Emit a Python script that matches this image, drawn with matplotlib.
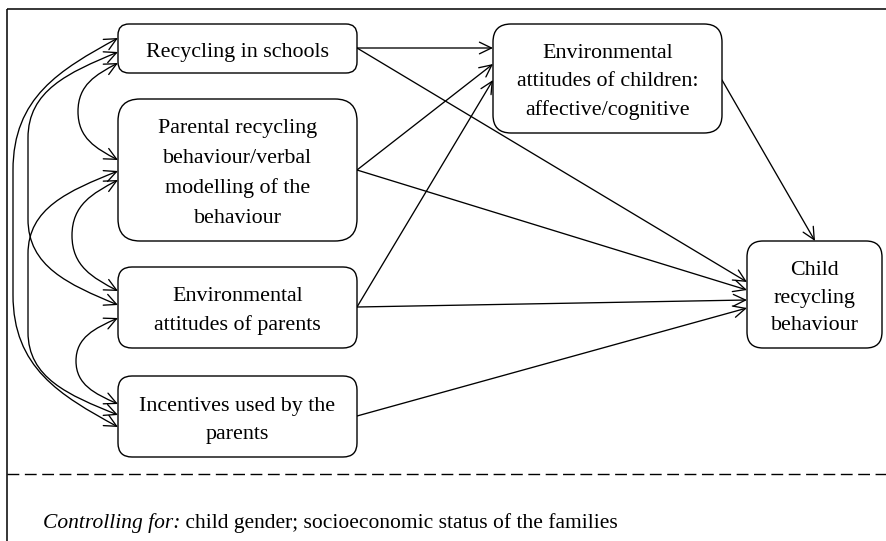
import matplotlib
matplotlib.use("Agg")
import matplotlib.pyplot as plt
from matplotlib.patches import FancyBboxPatch, FancyArrowPatch, ArrowStyle
from matplotlib.path import Path

# ---- data: node labels and paths ----
box_names = ["schools", "parental", "env_parents", "incentives", "env_children", "child"]
box_labels = [
    ["Recycling in schools"],
    ["Parental recycling", "behaviour/verbal", "modelling of the", "behaviour"],
    ["Environmental", "attitudes of parents"],
    ["Incentives used by the", "parents"],
    ["Environmental", "attitudes of children:", "affective/cognitive"],
    ["Child", "recycling", "behaviour"],
]
# directed paths (from, to)
direct_paths = [
    ("schools", "env_children"),
    ("schools", "child"),
    ("parental", "env_children"),
    ("parental", "child"),
    ("env_parents", "env_children"),
    ("env_parents", "child"),
    ("incentives", "child"),
    ("env_children", "child"),
]
# covariances among exogenous variables
covariances = [
    ("schools", "parental"),
    ("parental", "env_parents"),
    ("env_parents", "incentives"),
    ("schools", "env_parents"),
    ("parental", "incentives"),
    ("schools", "incentives"),
]
footnote_italic = "Controlling for:"
footnote_rest = " child gender; socioeconomic status of the families"

# ---- layout (pixel space) ----
W, H = 887, 541
boxes = {  # x0, y0, x1, y1, corner radius, line spacing
    "schools": (118, 24, 357, 73, 11, 30),
    "parental": (118, 99, 357, 241, 22, 30),
    "env_parents": (118, 267, 357, 348, 14, 29),
    "incentives": (118, 376, 357, 457, 14, 28),
    "env_children": (493, 24, 722, 133, 18, 28),
    "child": (747, 241, 882, 348, 16, 27.5),
}
# arrow start / end points
arrow_pts = {
    ("schools", "env_children"): ((357, 48), (493, 48)),
    ("schools", "child"): ((357, 48), (747, 282)),
    ("parental", "env_children"): ((357, 170), (493, 64)),
    ("parental", "child"): ((357, 170), (747, 290)),
    ("env_parents", "env_children"): ((357, 307), (493, 80)),
    ("env_parents", "child"): ((357, 307), (747, 300)),
    ("incentives", "child"): ((357, 416), (747, 308)),
    ("env_children", "child"): ((722, 80), (815, 241)),
}
# covariance arcs: y at first box, y at second box, leftmost x
cov_geom = {
    ("schools", "parental"): (63, 160, 78),
    ("parental", "env_parents"): (180, 291, 72),
    ("env_parents", "incentives"): (318, 404, 76),
    ("schools", "env_parents"): (52, 305, 28),
    ("parental", "incentives"): (171, 415, 28),
    ("schools", "incentives"): (38, 427, 13),
}

FONT = "Liberation Serif"
FS = 15.8
FS_NOTE = 15.5
LW = 0.95

fig = plt.figure(figsize=(W / 100, H / 100), dpi=100)
ax = fig.add_axes([0, 0, 1, 1])
ax.set_xlim(0, W)
ax.set_ylim(H, 0)
ax.axis("off")

# frame
ax.plot([7, 7], [9, H + 5], color="black", lw=1.1, solid_capstyle="butt")
ax.plot([7, W + 5], [9, 9], color="black", lw=1.1, solid_capstyle="butt")
ax.plot([7, W + 5], [474, 474], color="black", lw=1.0, dashes=(8.5, 4))

# boxes + labels
for name, lines in zip(box_names, box_labels):
    x0, y0, x1, y1, r, ls = boxes[name]
    ax.add_patch(FancyBboxPatch((x0, y0), x1 - x0, y1 - y0,
                                boxstyle=f"round,pad=0,rounding_size={r}",
                                fc="white", ec="black", lw=1.0, zorder=3))
    cx, cy = (x0 + x1) / 2, (y0 + y1) / 2
    n = len(lines)
    for i, t in enumerate(lines):
        yy = cy + (i - (n - 1) / 2) * ls
        ax.text(cx, yy + 8, t, ha="center", va="baseline", fontsize=FS,
                family=FONT, zorder=4)

style = ArrowStyle("->", head_length=0.62, head_width=0.3)
style2 = ArrowStyle("<->", head_length=0.62, head_width=0.3)

for key in direct_paths:
    (xa, ya), (xb, yb) = arrow_pts[key]
    ax.add_patch(FancyArrowPatch((xa, ya), (xb, yb), arrowstyle=style,
                                 mutation_scale=14, shrinkA=0, shrinkB=0,
                                 lw=LW, color="black", zorder=2))


def cov_path(y1, y2, xl, x0=118):
    h = y2 - y1
    ry = h / 2 if h < 150 else 0.34 * h
    rx = x0 - xl
    k = 0.552
    a = 0.24 * ry
    verts = [(x0, y1), (x0 - k * rx, y1 + a), (xl, y1 + ry - k * ry), (xl, y1 + ry)]
    codes = [Path.MOVETO, Path.CURVE4, Path.CURVE4, Path.CURVE4]
    if y2 - ry > y1 + ry + 0.5:
        verts.append((xl, y2 - ry))
        codes.append(Path.LINETO)
    verts += [(xl, y2 - ry + k * ry), (x0 - k * rx, y2 - a), (x0, y2)]
    codes += [Path.CURVE4, Path.CURVE4, Path.CURVE4]
    return Path(verts, codes)


for key in covariances:
    y1, y2, xl = cov_geom[key]
    ax.add_patch(FancyArrowPatch(path=cov_path(y1, y2, xl), arrowstyle=style2,
                                 mutation_scale=14, lw=LW, color="black",
                                 fc="none", zorder=2))

# footnote
t1 = ax.text(43, 528, footnote_italic, ha="left", va="baseline", fontsize=FS_NOTE,
             family=FONT, style="italic")
fig.canvas.draw()
bb = t1.get_window_extent(renderer=fig.canvas.get_renderer())
xend = ax.transData.inverted().transform((bb.x1, bb.y0))[0]
ax.text(xend, 528, footnote_rest, ha="left", va="baseline", fontsize=FS_NOTE,
        family=FONT)

fig.savefig("out.png", dpi=100)
